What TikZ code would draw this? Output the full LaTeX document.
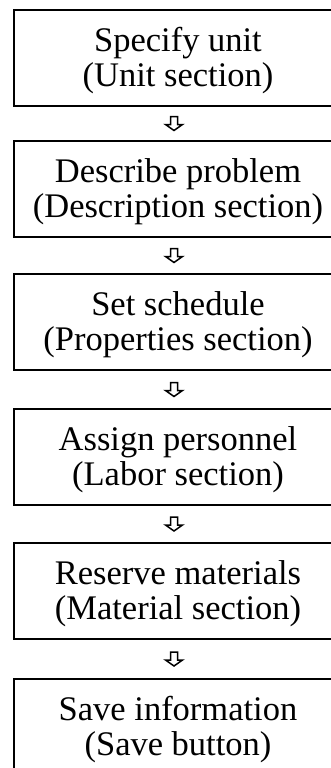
\documentclass[tikz,border=0pt]{standalone}
\usepackage{fontspec}
\setmainfont{Liberation Serif}
\begin{document}
\begin{tikzpicture}[x=1pt,y=-1pt,
  stepbox/.style={draw=black,line width=2pt,rectangle,minimum width=328pt,minimum height=96pt,
    align=center,inner sep=0pt,font=\fontsize{34.5}{35}\selectfont},
  steptext/.style={align=center,inner sep=0pt,font=\fontsize{34.5}{35}\selectfont},
  hollowarrow/.style={draw=black,line width=1.5pt,line join=miter,fill=white}]
\useasboundingbox (0,0) rectangle (331,768);
\clip (0,0) rectangle (331,768);
\foreach \n/\y/\t in {b1/58/{Specify unit\\(Unit section)},
  b2/189/{Describe problem\\(Description section)},
  b3/322/{Set schedule\\(Properties section)},
  b4/457/{Assign personnel\\(Labor section)},
  b5/591/{Reserve materials\\(Material section)},
  b6/727/{Save information\\(Save button)}}{
  \node[stepbox] (\n) at (178,\y) {};
  \node[steptext] (\n t) at ([yshift=-3pt]\n.center) {\t};
}
\foreach \a/\b [count=\i] in {b1/b2,b2/b3,b3/b4,b4/b5,b5/b6}{
  \path (\a.south) -- (\b.north) coordinate[pos=0.5] (m\i);
  \draw[hollowarrow,shift={([xshift=-4pt]m\i)}]
    (-3.5,-7) -- (3.5,-7) -- (3.5,1) -- (8.5,1) -- (0,7) -- (-8.5,1) -- (-3.5,1) -- cycle;
}
\end{tikzpicture}
\end{document}
